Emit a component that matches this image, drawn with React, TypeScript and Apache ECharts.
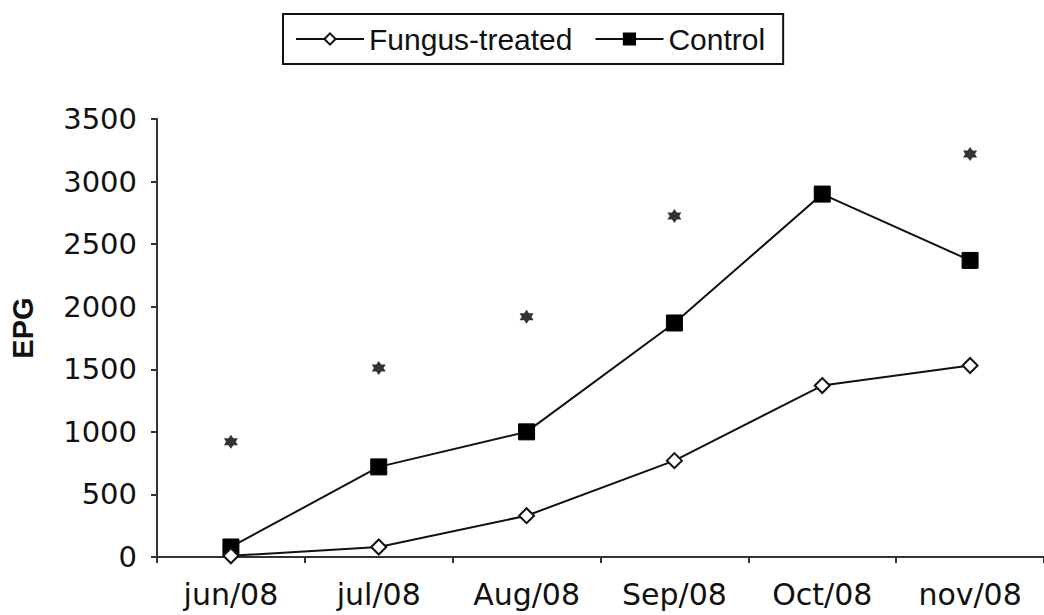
import React, { useEffect, useRef } from "react";
import * as echarts from "echarts";

const categories = ["jun/08", "jul/08", "Aug/08", "Sep/08", "Oct/08", "nov/08"];
const fungusValues = [10, 80, 330, 770, 1370, 1530];
const controlValues = [80, 720, 1000, 1870, 2900, 2370];
const asteriskValues = [920, 1510, 1920, 2725, 3570, 3220];

const STAR =
  "path://M0,-5 L1.5,-2.5 L4.33,-2.5 L3,0 L4.33,2.5 L1.5,2.5 L0,5 L-1.5,2.5 L-4.33,2.5 L-3,0 L-4.33,-2.5 L-1.5,-2.5 Z";

export default function App() {
  const ref = useRef<HTMLDivElement>(null);
  useEffect(() => {
    if (!ref.current) return;
    const chart = echarts.init(ref.current, null, { renderer: "svg" });
    const font = "Liberation Sans, Arial, sans-serif";
    const wide = "DejaVu Sans, sans-serif";
    chart.setOption({
      animation: false,
      backgroundColor: "#ffffff",
      textStyle: { fontFamily: font },
      legend: {
        data: ["Fungus-treated", "Control"],
        left: 283,
        top: 14,
        orient: "horizontal",
        itemWidth: 68,
        itemHeight: 14,
        itemGap: 22,
        padding: [10, 18, 10, 12],
        borderColor: "#111",
        borderWidth: 2,
        textStyle: { fontSize: 30, color: "#111", fontFamily: font },
      },
      grid: { left: 154, right: -4, top: 119, bottom: 58, containLabel: false },
      xAxis: {
        type: "category",
        data: categories,
        boundaryGap: true,
        axisLine: { show: true, lineStyle: { color: "#333", width: 2 } },
        axisTick: { show: true, length: 6, lineStyle: { color: "#333", width: 2 } },
        axisLabel: { fontSize: 30, color: "#111", margin: 22, fontFamily: wide },
        splitLine: { show: false },
      },
      yAxis: {
        type: "value",
        min: 0,
        max: 3500,
        interval: 500,
        name: "EPG",
        nameLocation: "middle",
        nameRotate: 90,
        nameGap: 120,
        nameTextStyle: {
          fontSize: 29,
          fontWeight: "bold",
          color: "#111",
          fontFamily: font,
          padding: [0, 0, 0, 20],
        },
        axisLine: { show: true, lineStyle: { color: "#333", width: 2 } },
        axisTick: { show: true, length: 6, lineStyle: { color: "#333", width: 2 } },
        axisLabel: {
          fontSize: 29,
          color: "#111",
          margin: 20,
          fontFamily: wide,
          formatter: (v: number) => String(v),
        },
        splitLine: { show: false },
      },
      series: [
        {
          name: "Fungus-treated",
          type: "line",
          data: fungusValues,
          symbol: "diamond",
          symbolSize: 15,
          lineStyle: { color: "#111", width: 2 },
          itemStyle: { color: "#ffffff", borderColor: "#111", borderWidth: 2 },
          z: 3,
        },
        {
          name: "Control",
          type: "line",
          data: controlValues,
          symbol: "rect",
          symbolSize: 16,
          lineStyle: { color: "#111", width: 2 },
          itemStyle: { color: "#000", borderColor: "#000", borderWidth: 1 },
          z: 2,
        },
        {
          name: "sig",
          type: "scatter",
          data: asteriskValues,
          symbol: STAR,
          symbolSize: 14,
          itemStyle: { color: "#000" },
        },
      ],
    });
    return () => chart.dispose();
  }, []);
  return (
    <div
      ref={ref}
      style={{ position: "absolute", left: 0, top: 0, width: 1044, height: 615 }}
    />
  );
}
